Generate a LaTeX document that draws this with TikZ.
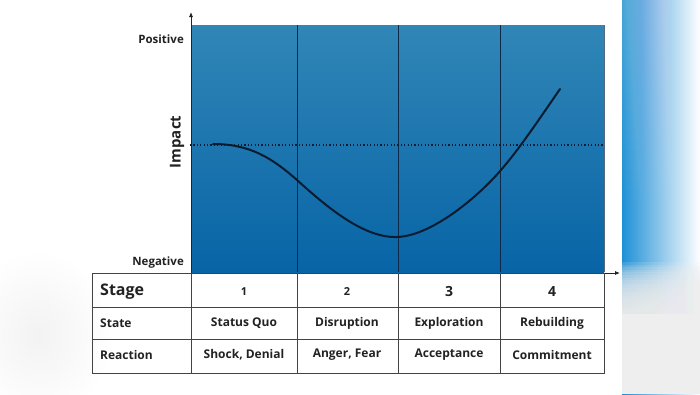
\documentclass[tikz,border=0pt]{standalone}
\usepackage{fontspec}
\setmainfont{Open Sans}
\usetikzlibrary{arrows.meta}
\definecolor{panelTop}{RGB}{48,134,182}
\definecolor{panelBot}{RGB}{8,100,166}
\definecolor{navy}{RGB}{14,42,72}
\definecolor{curveink}{RGB}{10,28,48}
\definecolor{ink}{RGB}{34,34,34}
\definecolor{stripblue}{RGB}{30,144,214}
\definecolor{bggrey}{RGB}{238,238,238}
\tikzset{
  lbl/.style={font=\bfseries\fontsize{11.5}{13}\selectfont, text=ink, inner sep=0pt},
  cell/.style={font=\bfseries\fontsize{12}{14}\selectfont, text=ink, inner sep=0pt},
  bigcell/.style={font=\bfseries\fontsize{16}{18}\selectfont, text=ink, inner sep=0pt},
  numcell/.style={font=\bfseries\fontsize{11}{14}\selectfont, text=ink, inner sep=0pt},
  bignum/.style={font=\bfseries\fontsize{14}{16}\selectfont, text=ink, inner sep=0pt},
  gridline/.style={draw=ink!85, line width=0.9pt},
  divider/.style={draw=navy, line width=1pt},
  axis/.style={draw=ink, line width=0.8pt, -{Latex[length=5pt,width=4pt]}},
}
\begin{document}
\begin{tikzpicture}[x=1pt,y=-1pt]
\useasboundingbox (0,0) rectangle (700,394);
\fill[white] (0,0) rectangle (700,394);
% left soft grey blur
\shade[inner color=black!5, outer color=white] (38,335) ellipse (75 and 85);
% right blue strip
\shade[left color=stripblue, middle color=stripblue, right color=white] (622,0) rectangle (700,394);
\foreach \k in {0,...,19} {
  \fill[white, fill opacity=0.012] (622,0) rectangle (700,{10*\k+10});
}
\foreach \k in {0,...,19} {
  \fill[bggrey, fill opacity=0.15] (622,{262+2.6*\k}) rectangle (700,394);
}
\fill[bggrey] (622,314) rectangle (700,394);
% panel
\shade[top color=panelTop, bottom color=panelBot] (191,25) rectangle (604,272);
\draw[navy!70, line width=0.6pt] (604,25) -- (604,272);
\coordinate (d1t) at (297,25); \coordinate (d1b) at (297,272);
\coordinate (d2t) at (398,25); \coordinate (d2b) at (398,272);
\coordinate (d3t) at (500,25); \coordinate (d3b) at (500,272);
\draw[divider] (d1t) -- (d1b);
\draw[divider] (d2t) -- (d2b);
\draw[divider] (d3t) -- (d3b);
% dotted baseline
\coordinate (zl) at (190,145); \coordinate (zr) at (604,145);
\draw[curveink, line width=1.1pt, dash pattern=on 1.2pt off 2.2pt] (zl) -- (zr);
% curve
\coordinate (c0) at (213,144);
\coordinate (c1) at (297,180);
\coordinate (c2) at (397,237);
\coordinate (c3) at (501,170);
\coordinate (c4) at (560,89);
\draw[curveink, line width=2pt, line cap=round]
  (c0) .. controls (250,144) and (272,158) .. (c1)
       .. controls (330,210) and (365,238) .. (c2)
       .. controls (430,236) and (475,200) .. (c3)
       .. controls (520,148) and (540,118) .. (c4);
% axes
\coordinate (o) at (191,273);
\coordinate (ytip) at (191,12);
\coordinate (xtip) at (620,273);
\draw[axis] (o) -- (ytip);
\draw[axis] (o) -- (xtip);
% axis labels
\node[lbl, anchor=east] (pos) at (184,39) {Positive};
\node[lbl, anchor=east] (neg) at (184,263) {Negative};
\node[font=\bfseries\fontsize{15}{17}\selectfont, text=ink, rotate=90, inner sep=0pt] (impact) at (177,142) {Impact};
% table grid
\draw[gridline] (92,273) rectangle (604,373);
\draw[gridline] (92,307) -- (604,307);
\draw[gridline] (92,339) -- (604,339);
\foreach \x in {191,297,398,500} \draw[gridline] (\x,273) -- (\x,373);
% table text
\node[bigcell, anchor=west] (stage) at (100,292) {Stage};
\node[cell, anchor=west] (state) at (100,323) {State};
\node[cell, anchor=west] (reaction) at (100,355) {Reaction};
\node[numcell] (n1) at (244,292) {1};
\node[numcell] (n2) at (347,292) {2};
\node[bignum] (n3) at (449,291) {3};
\node[bignum] (n4) at (552,291) {4};
\node[cell] (s1) at (244,323) {Status Quo};
\node[cell] (s2) at (347,323) {Disruption};
\node[cell] (s3) at (449,323) {Exploration};
\node[cell] (s4) at (552,323) {Rebuilding};
\node[cell] (r1) at (244,355) {Shock, Denial};
\node[cell] (r2) at (347,355) {Anger, Fear};
\node[cell] (r3) at (449,355) {Acceptance};
\node[cell] (r4) at (552,355) {Commitment};
\end{tikzpicture}
\end{document}
